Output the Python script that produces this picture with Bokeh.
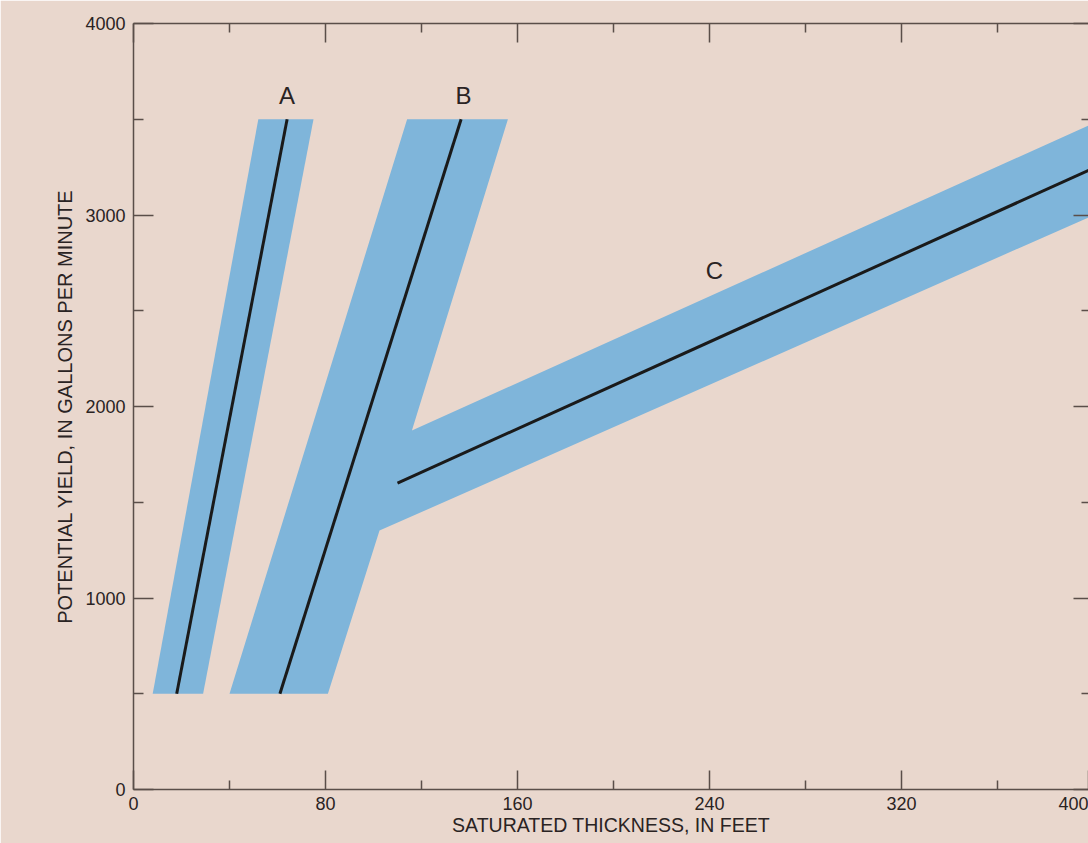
from bokeh.plotting import figure
from bokeh.models import Range1d, LinearAxis, FixedTicker
from bokeh.core.properties import value
from bokeh.embed import file_html
from bokeh.resources import INLINE

# ---------------- data ----------------
x_ticks = [0, 80, 160, 240, 320, 400]
x_minor = [40, 120, 200, 280, 360]
y_ticks = [0, 1000, 2000, 3000, 4000]
y_minor = [500, 1500, 2500, 3500]

# shaded range bands (saturated thickness, yield)
band_a_x = [8, 29, 75, 52]
band_a_y = [500, 500, 3500, 3500]
band_bc_x = [40, 81, 102.5, 400, 400, 116, 156, 114]
band_bc_y = [500, 500, 1352, 2999, 3479, 1875, 3500, 3500]

# central curves
line_a_x = [18, 64]
line_a_y = [500, 3500]
line_b_x = [61, 136.5]
line_b_y = [500, 3500]
line_c_x = [110, 400]
line_c_y = [1600, 3245]

curve_names = ["A", "B", "C"]
curve_label_x = [64, 137.5, 242]
curve_label_y = [3625, 3625, 2710]

x_title = "SATURATED THICKNESS, IN FEET"
y_title = "POTENTIAL YIELD, IN GALLONS PER MINUTE"

# ---------------- style ----------------
BG = "#e9d7cd"
BLUE = "#7fb5da"
AX = "#5a4e49"
TXT = "#2a2323"
FONT = "Liberation Sans"

# the original sheet is cut just short of x = 400
X_END = 397.9

p = figure(width=1088, height=843,
           x_range=Range1d(0, X_END), y_range=Range1d(0, 4000),
           x_axis_location=None, y_axis_location=None,
           min_border_left=133, min_border_top=23, min_border_bottom=54,
           min_border_right=0,
           toolbar_location=None, output_backend="svg")
p.background_fill_color = BG
p.border_fill_color = BG
p.outline_line_color = None
p.xgrid.visible = False
p.ygrid.visible = False


def style(ax, major_in, minor_in, show_labels=True, line=True, title_size="19.5px"):
    ax.axis_line_color = AX if line else None
    ax.axis_line_width = 1.5
    ax.major_tick_line_color = AX
    ax.minor_tick_line_color = AX
    ax.major_tick_line_width = 1.5
    ax.minor_tick_line_width = 1.5
    ax.major_tick_in = major_in
    ax.major_tick_out = 0
    ax.minor_tick_in = minor_in
    ax.minor_tick_out = 0
    if show_labels:
        ax.major_label_text_font = FONT
        ax.major_label_text_font_size = "18px"
        ax.major_label_text_color = TXT
    else:
        ax.major_label_text_font_size = "0px"
        ax.major_label_standoff = 0
        ax.major_label_text_color = None
    ax.axis_label_text_font = FONT
    ax.axis_label_text_font_size = title_size
    ax.axis_label_text_font_style = "normal"
    ax.axis_label_text_color = TXT


# the last tick label sits on the cut edge of the sheet
edge_ticks = [min(t, X_END) for t in x_ticks]
overrides = {min(t, X_END): str(t) for t in x_ticks if t > X_END}

below = LinearAxis(ticker=FixedTicker(ticks=edge_ticks, minor_ticks=x_minor))
style(below, 19, 9)
below.major_label_standoff = 7
below.major_label_overrides = overrides
below.axis_label = x_title
below.axis_label_standoff = 1
p.add_layout(below, "below")

above = LinearAxis(ticker=FixedTicker(ticks=x_ticks, minor_ticks=x_minor))
style(above, 19, 9, show_labels=False)
p.add_layout(above, "above")

yt = FixedTicker(ticks=y_ticks, minor_ticks=y_minor)
left = LinearAxis(ticker=yt)
style(left, 20, 10, title_size="20px")
left.major_label_standoff = 8
left.axis_label = y_title
left.axis_label_standoff = 6
p.add_layout(left, "left")

right = LinearAxis(ticker=yt)
style(right, 15, 7, show_labels=False, line=False)
p.add_layout(right, "right")

# bands
p.patch(band_a_x, band_a_y, fill_color=BLUE, line_color=None)
p.patch(band_bc_x, band_bc_y, fill_color=BLUE, line_color=None)

# curves
for xs, ys in [(line_a_x, line_a_y), (line_b_x, line_b_y), (line_c_x, line_c_y)]:
    p.line(xs, ys, line_color="#1a1a1a", line_width=3)

p.text(x=curve_label_x, y=curve_label_y, text=curve_names,
       text_font=value(FONT), text_font_size="24px", text_color=TXT,
       text_align="center", text_baseline="middle")

html = file_html(p, INLINE)
html = html.replace("<body>", '<body style="background-color:%s;">' % BG, 1)
open("out.html", "w").write(html)
